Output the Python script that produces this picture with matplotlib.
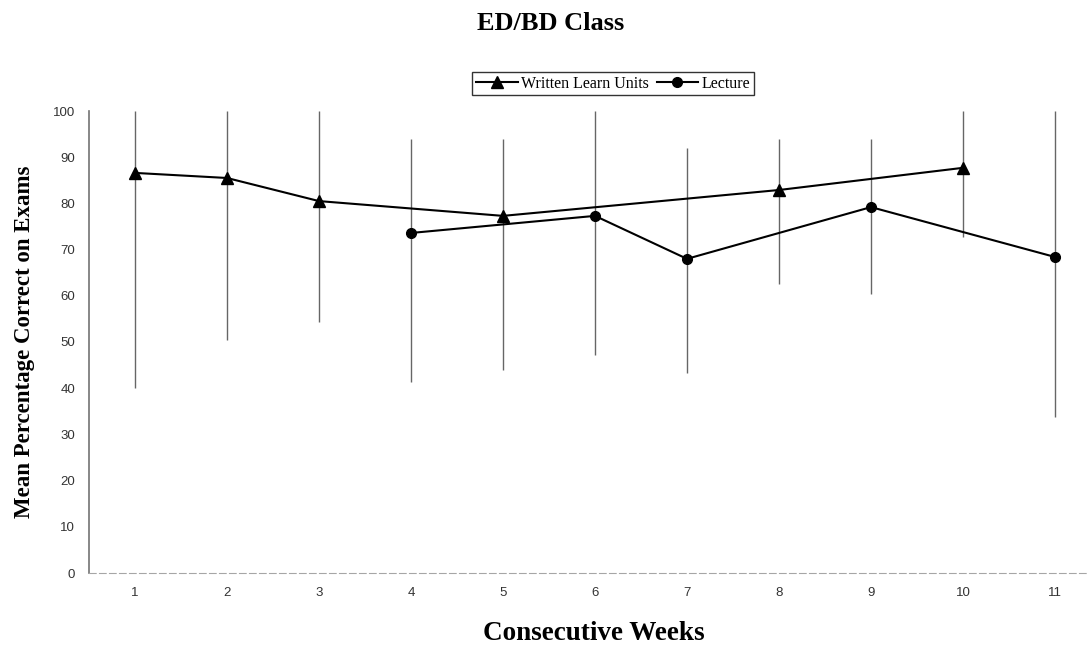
import numpy as np
import matplotlib
matplotlib.use("Agg")
import matplotlib.pyplot as plt

# data
weeks = list(range(1, 12))

wlu_weeks = [1, 2, 3, 5, 8, 10]
wlu_mean = [86.6, 85.5, 80.5, 77.3, 82.9, 87.7]
wlu_low = [40.0, 50.4, 54.3, 43.9, 62.6, 72.7]
wlu_high = [100, 100, 100, 94.0, 94.0, 100]

lec_weeks = [4, 6, 7, 9, 11]
lec_mean = [73.6, 77.3, 68.0, 79.2, 68.4]
lec_low = [41.3, 47.2, 43.3, 60.4, 33.8]
lec_high = [94.0, 100, 92.0, 94.0, 100]

yticks = list(range(0, 101, 10))

serif = ['Liberation Serif', 'DejaVu Serif']
sans = ['Liberation Sans', 'DejaVu Sans']

fig = plt.figure(figsize=(10.87, 6.45), dpi=100)
ax = fig.add_axes([89 / 1087, 72 / 645, 1012 / 1087, 462 / 645])

# range bars
ax.vlines(wlu_weeks, wlu_low, wlu_high, color='0.4', lw=1.0, zorder=1)
ax.vlines(lec_weeks, lec_low, lec_high, color='0.4', lw=1.0, zorder=1)

# series
ax.plot(wlu_weeks, wlu_mean, '-^', color='black', lw=1.5, ms=8,
        label='Written Learn Units', zorder=3)
ax.plot(lec_weeks, lec_mean, '-o', color='black', lw=1.5, ms=7,
        label='Lecture', zorder=3)

ax.set_xlim(0.5, 11.5)
ax.set_ylim(0, 100)
ax.set_xticks(weeks)
ax.set_yticks(yticks)
ax.tick_params(length=0, labelsize=9.5, labelcolor='0.2', pad=10)
for lab in ax.get_xticklabels() + ax.get_yticklabels():
    lab.set_family(sans)

for s in ['top', 'right']:
    ax.spines[s].set_visible(False)
ax.spines['left'].set_color('0.45')
ax.spines['left'].set_linewidth(1.2)
ax.spines['bottom'].set_color('0.65')
ax.spines['bottom'].set_linestyle((0, (6, 3)))

fig.text(551 / 1087, 1 - 23 / 645, 'ED/BD Class', ha='center', va='center',
         fontsize=19, fontweight='bold', family=serif)
fig.text(594 / 1087, 1 - 633 / 645, 'Consecutive Weeks', ha='center',
         va='center', fontsize=19.5, fontweight='bold', family=serif)
fig.text(25 / 1087, 1 - 342 / 645, 'Mean Percentage Correct on Exams',
         ha='center', va='center', rotation=90, fontsize=16.5,
         fontweight='bold', family=serif)

leg = fig.legend(loc='center', bbox_to_anchor=(613 / 1087, 1 - 83.5 / 645),
                 ncol=2, frameon=True, fancybox=False, edgecolor='black',
                 prop={'family': serif, 'size': 11.5}, handlelength=2.6,
                 columnspacing=0.5, handletextpad=0.2, borderpad=0.25,
                 borderaxespad=0)
leg.get_frame().set_linewidth(1.0)

fig.savefig('out.png', dpi=100)
